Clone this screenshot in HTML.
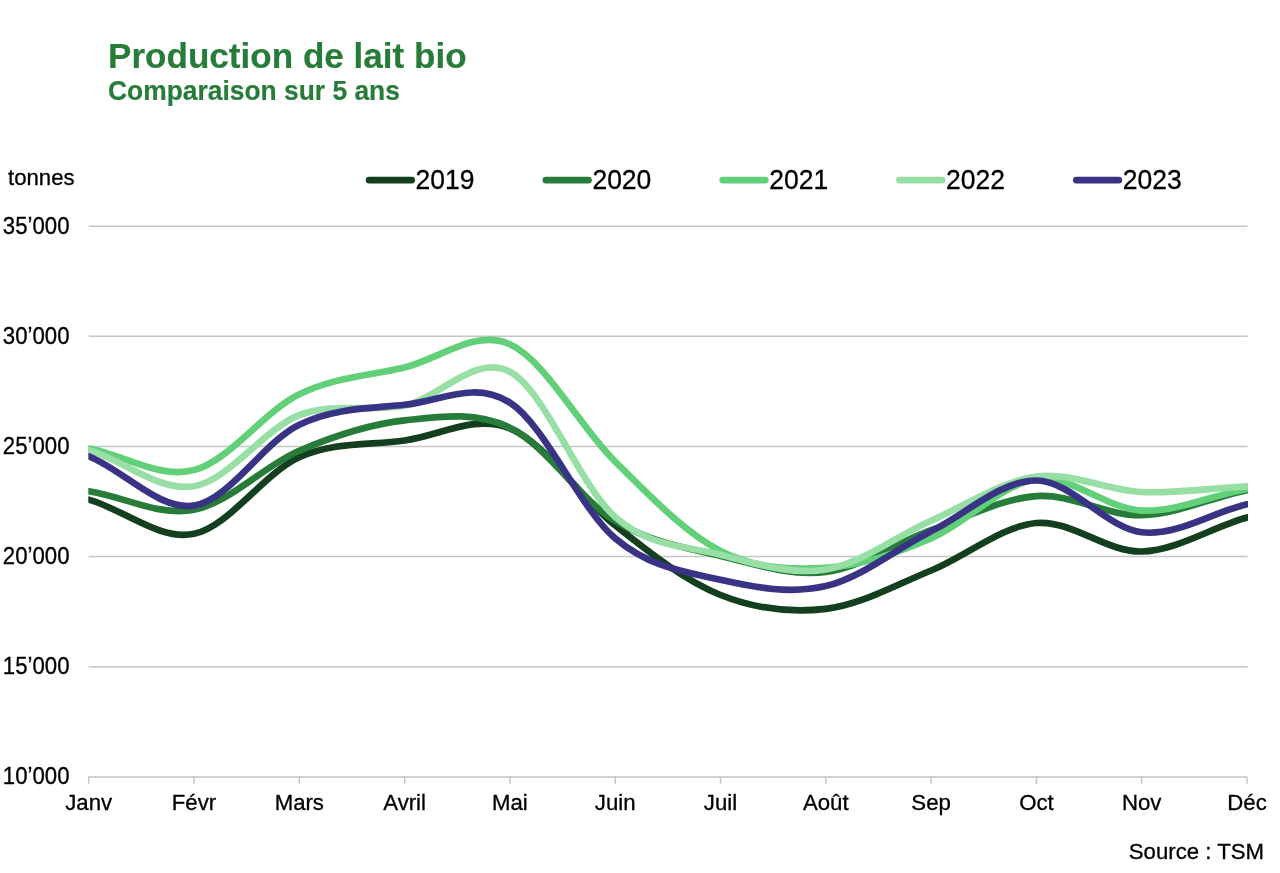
<!DOCTYPE html>
<html lang="fr"><head><meta charset="utf-8"><title>Production de lait bio</title>
<style>
html,body{margin:0;padding:0;background:#fff;}
body{width:1280px;height:873px;overflow:hidden;position:relative;font-family:"Liberation Sans",Arial,Helvetica,sans-serif;}
svg{position:absolute;left:0;top:0;display:block}
svg text{font-family:"Liberation Sans",Arial,Helvetica,sans-serif;fill:#000;stroke:#000;stroke-width:0.3px;stroke-linejoin:round}
.t{font-weight:bold;fill:#277c3a;stroke:#277c3a !important;stroke-width:0.2px !important}
.a{font-size:22.2px}
.l{font-size:26.5px}
</style></head><body>
<svg width="1280" height="873" viewBox="0 0 1280 873">
<rect width="1280" height="873" fill="#fff"/>
<defs><clipPath id="plot"><rect x="88.3" y="200" width="1159.7" height="600"/></clipPath></defs>

<text class="t" transform="translate(108,67.5) scale(1,1.02)" font-size="35.1" style="font-weight:bold;fill:#277c3a">Production de lait bio</text>
<text class="t" transform="translate(108,99.6) scale(1,1.02)" font-size="26.4" style="font-weight:bold;fill:#277c3a">Comparaison sur 5 ans</text>
<text class="a" transform="translate(8,185) scale(1,1.02)">tonnes</text>
<g stroke="#c6c6c6" stroke-width="1.45" fill="none">
<line x1="88.70" y1="226.20" x2="1247.50" y2="226.20"/>
<line x1="88.70" y1="336.32" x2="1247.50" y2="336.32"/>
<line x1="88.70" y1="446.44" x2="1247.50" y2="446.44"/>
<line x1="88.70" y1="556.56" x2="1247.50" y2="556.56"/>
<line x1="88.70" y1="666.68" x2="1247.50" y2="666.68"/>
<path d="M88.70 783.70 L88.70 776.90 L1247.00 776.90 L1247.00 783.70 M194.00 776.90 L194.00 783.70 M299.30 776.90 L299.30 783.70 M404.60 776.90 L404.60 783.70 M509.90 776.90 L509.90 783.70 M615.20 776.90 L615.20 783.70 M720.50 776.90 L720.50 783.70 M825.80 776.90 L825.80 783.70 M931.10 776.90 L931.10 783.70 M1036.40 776.90 L1036.40 783.70 M1141.70 776.90 L1141.70 783.70" stroke="#c4c4c4" stroke-linejoin="round"/>
</g>
<text class="a" transform="translate(69.5,233.50) scale(1,1.045)" text-anchor="end">35’000</text>
<text class="a" transform="translate(69.5,343.62) scale(1,1.045)" text-anchor="end">30’000</text>
<text class="a" transform="translate(69.5,453.74) scale(1,1.045)" text-anchor="end">25’000</text>
<text class="a" transform="translate(69.5,563.86) scale(1,1.045)" text-anchor="end">20’000</text>
<text class="a" transform="translate(69.5,673.98) scale(1,1.045)" text-anchor="end">15’000</text>
<text class="a" transform="translate(69.5,784.10) scale(1,1.045)" text-anchor="end">10’000</text>
<text class="a" transform="translate(88.70,810.2) scale(1,1.03)" text-anchor="middle">Janv</text>
<text class="a" transform="translate(194.00,810.2) scale(1,1.03)" text-anchor="middle">Févr</text>
<text class="a" transform="translate(299.30,810.2) scale(1,1.03)" text-anchor="middle">Mars</text>
<text class="a" transform="translate(404.60,810.2) scale(1,1.03)" text-anchor="middle">Avril</text>
<text class="a" transform="translate(509.90,810.2) scale(1,1.03)" text-anchor="middle">Mai</text>
<text class="a" transform="translate(615.20,810.2) scale(1,1.03)" text-anchor="middle">Juin</text>
<text class="a" transform="translate(720.50,810.2) scale(1,1.03)" text-anchor="middle">Juil</text>
<text class="a" transform="translate(825.80,810.2) scale(1,1.03)" text-anchor="middle">Août</text>
<text class="a" transform="translate(931.10,810.2) scale(1,1.03)" text-anchor="middle">Sep</text>
<text class="a" transform="translate(1036.40,810.2) scale(1,1.03)" text-anchor="middle">Oct</text>
<text class="a" transform="translate(1141.70,810.2) scale(1,1.03)" text-anchor="middle">Nov</text>
<text class="a" transform="translate(1247.00,810.2) scale(1,1.03)" text-anchor="middle">Déc</text>
<text class="a" transform="translate(1264,859.3) scale(1,1.03)" text-anchor="end">Source : TSM</text>
<g clip-path="url(#plot)" fill="none" stroke-width="6.67" stroke-linecap="round" stroke-linejoin="round">
<path d="M88.70 499.60 C123.80 509.29 158.90 540.87 194.00 533.80 C229.10 526.73 264.20 472.75 299.30 457.20 C334.40 441.65 369.50 445.32 404.60 440.50 C439.70 435.68 474.80 414.13 509.90 428.30 C545.00 442.47 580.10 497.72 615.20 525.50 C650.30 553.28 685.40 581.10 720.50 595.00 C755.60 608.90 790.70 612.98 825.80 608.90 C860.90 604.82 896.00 584.82 931.10 570.50 C966.20 556.18 1001.30 526.17 1036.40 523.00 C1071.50 519.83 1106.60 552.42 1141.70 551.50 C1176.80 550.58 1211.90 527.13 1247.00 517.50" stroke="#143f1f"/>
<path d="M88.70 491.30 C123.80 496.54 158.90 516.57 194.00 509.80 C229.10 503.03 264.20 465.60 299.30 450.70 C334.40 435.80 369.50 424.23 404.60 420.40 C439.70 416.57 474.80 410.93 509.90 427.70 C545.00 444.47 580.10 499.62 615.20 521.00 C650.30 542.38 685.40 547.50 720.50 556.00 C755.60 564.50 790.70 576.30 825.80 572.00 C860.90 567.70 896.00 542.85 931.10 530.20 C966.20 517.55 1001.30 498.60 1036.40 496.10 C1071.50 493.60 1106.60 516.18 1141.70 515.20 C1176.80 514.22 1211.90 497.28 1247.00 490.20" stroke="#277c3a"/>
<path d="M88.70 448.50 C123.80 454.62 158.90 479.15 194.00 470.10 C229.10 461.05 264.20 411.32 299.30 394.20 C334.40 377.08 369.50 375.72 404.60 367.40 C439.70 359.08 474.80 328.58 509.90 344.30 C545.00 360.02 580.10 427.25 615.20 461.70 C650.30 496.15 685.40 533.30 720.50 551.00 C755.60 568.70 790.70 570.00 825.80 567.90 C860.90 565.80 896.00 553.17 931.10 538.40 C966.20 523.63 1001.30 483.93 1036.40 479.30 C1071.50 474.67 1106.60 508.98 1141.70 510.60 C1176.80 512.22 1211.90 495.12 1247.00 489.00" stroke="#61d079"/>
<path d="M88.70 450.10 C123.80 460.33 158.90 492.03 194.00 486.20 C229.10 480.37 264.20 428.55 299.30 415.10 C334.40 401.65 369.50 412.72 404.60 405.50 C439.70 398.28 474.80 353.22 509.90 371.80 C545.00 390.38 580.10 486.52 615.20 517.00 C650.30 547.48 685.40 545.95 720.50 554.70 C755.60 563.45 790.70 575.17 825.80 569.50 C860.90 563.83 896.00 536.18 931.10 520.70 C966.20 505.22 1001.30 481.38 1036.40 476.60 C1071.50 471.82 1106.60 490.38 1141.70 492.00 C1176.80 493.62 1211.90 487.92 1247.00 486.30" stroke="#97dfa5"/>
<path d="M88.70 456.25 C123.80 470.23 158.90 510.86 194.00 505.60 C229.10 500.34 264.20 441.50 299.30 424.70 C334.40 407.90 369.50 408.48 404.60 404.80 C439.70 401.12 474.80 380.33 509.90 402.60 C545.00 424.87 580.10 508.87 615.20 538.40 C650.30 567.93 685.40 571.85 720.50 579.80 C755.60 587.75 790.70 594.18 825.80 586.10 C860.90 578.02 896.00 548.90 931.10 531.30 C966.20 513.70 1001.30 480.33 1036.40 480.50 C1071.50 480.67 1106.60 528.33 1141.70 532.30 C1176.80 536.27 1211.90 512.23 1247.00 504.30" stroke="#393385"/>
</g>
<line x1="369.10" y1="180.2" x2="411.70" y2="180.2" stroke="#143f1f" stroke-width="6.67" stroke-linecap="round"/>
<text class="l" transform="translate(415.60,189.1) scale(1,1.04)">2019</text>
<line x1="545.90" y1="180.2" x2="588.50" y2="180.2" stroke="#277c3a" stroke-width="6.67" stroke-linecap="round"/>
<text class="l" transform="translate(592.40,189.1) scale(1,1.04)">2020</text>
<line x1="722.70" y1="180.2" x2="765.30" y2="180.2" stroke="#61d079" stroke-width="6.67" stroke-linecap="round"/>
<text class="l" transform="translate(769.20,189.1) scale(1,1.04)">2021</text>
<line x1="899.50" y1="180.2" x2="942.10" y2="180.2" stroke="#97dfa5" stroke-width="6.67" stroke-linecap="round"/>
<text class="l" transform="translate(946.00,189.1) scale(1,1.04)">2022</text>
<line x1="1076.30" y1="180.2" x2="1118.90" y2="180.2" stroke="#393385" stroke-width="6.67" stroke-linecap="round"/>
<text class="l" transform="translate(1122.80,189.1) scale(1,1.04)">2023</text>
</svg></body></html>
